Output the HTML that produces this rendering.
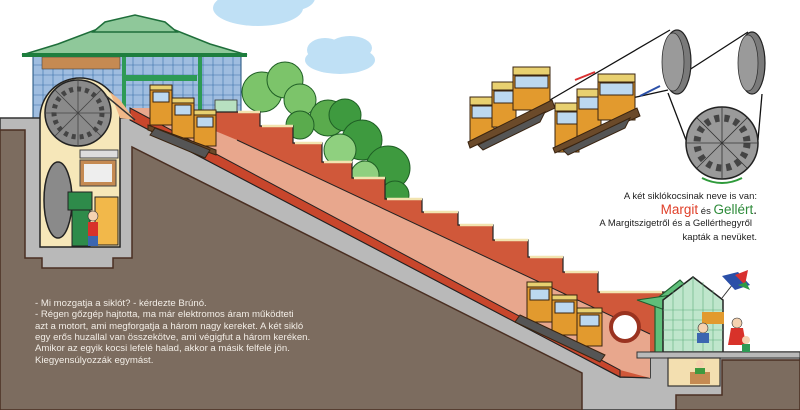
<!DOCTYPE html>
<html><head><meta charset="utf-8"><style>
html,body{margin:0;padding:0;background:#fff}
svg{display:block}
text{font-family:"Liberation Sans",sans-serif}
</style></head><body>
<svg width="800" height="410" viewBox="0 0 800 410" xmlns="http://www.w3.org/2000/svg">
<rect width="800" height="410" fill="#fff"/>
<!-- clouds -->
<g fill="#bfe0f5">
<ellipse cx="258" cy="8" rx="45" ry="18"/><ellipse cx="285" cy="-2" rx="30" ry="14"/>
<ellipse cx="340" cy="60" rx="35" ry="14"/><ellipse cx="325" cy="50" rx="18" ry="12"/><ellipse cx="350" cy="48" rx="22" ry="12"/>
</g>
<!-- trees -->
<g stroke="#1f5f25" stroke-width="1">
<circle cx="262" cy="92" r="20" fill="#7cc46a"/><circle cx="285" cy="80" r="18" fill="#7cc46a"/><circle cx="300" cy="100" r="16" fill="#7cc46a"/>
<circle cx="328" cy="118" r="18" fill="#5aab4d"/><circle cx="300" cy="125" r="14" fill="#5aab4d"/>
<circle cx="345" cy="115" r="16" fill="#3e9a3f"/><circle cx="362" cy="140" r="20" fill="#3e9a3f"/>
<circle cx="340" cy="150" r="16" fill="#8fd07f"/><circle cx="388" cy="168" r="22" fill="#3e9a3f"/><circle cx="395" cy="195" r="14" fill="#3e9a3f"/>
<circle cx="365" cy="175" r="14" fill="#8fd07f"/>
</g>
<!-- top building -->
<rect x="33" y="55" width="208" height="65" fill="#9fbde0" stroke="#1e4e7a" stroke-width="1"/>
<g stroke="#3a6fa8" stroke-width=".6">
<path d="M33,65H241M33,75H241M33,85H241M33,95H241M33,105H241M43,55V120M53,55V120M63,55V120M73,55V120M83,55V120M93,55V120M103,55V120M113,55V120M123,55V120M133,55V120M143,55V120M153,55V120M163,55V120M173,55V120M183,55V120M193,55V120M203,55V120M213,55V120M223,55V120M233,55V120"/>
</g>
<rect x="42" y="57" width="78" height="12" fill="#c58a52" stroke="#444" stroke-width=".6"/>
<rect x="122" y="75" width="75" height="6" fill="#2e9a55"/>
<rect x="122" y="55" width="4" height="65" fill="#2e9a55"/><rect x="198" y="55" width="4" height="65" fill="#2e9a55"/>
<polygon points="22,55 247,55 210,44 175,30 95,30 58,44" fill="#8fc89a" stroke="#1e6e3a" stroke-width="1.5"/>
<polygon points="93,32 177,32 165,22 135,15 105,22" fill="#8fc89a" stroke="#1e6e3a" stroke-width="1.5"/>
<rect x="22" y="53" width="225" height="4" fill="#1e7e3e"/>
<rect x="215" y="100" width="22" height="40" fill="#b8e0c0" stroke="#333" stroke-width=".8"/>
<!-- underground grey -->
<path d="M0,118 H135 L620,377 H650 V352 H800 V410 H0 Z" fill="#b9b9b9" stroke="#333" stroke-width="1.5"/>
<!-- brick region -->
<path d="M215,112 H260 V126 H293 V143 H322 V162 H352 V178 H385 V199 H422 V212 H458 V225 H493 V240 H528 V257 H563 V272 H598 V292 H665 V352 H650 V378 L620,377 L130,120 L215,120 Z" fill="#d0583a" stroke="#222" stroke-width="1.2"/>
<g stroke="#f2e4b0" stroke-width="2.5" fill="none">
<path d="M238,112 H260 M262,126 H293 M295,143 H322 M324,162 H352 M354,178 H385 M387,199 H422 M424,212 H458 M460,225 H493 M495,240 H528 M530,257 H563 M565,272 H598 M600,292 H662"/>
</g>
<!-- pink track band -->
<path d="M160,108 L237,140 L650,334 L650,378 L620,370 L130,108 Z" fill="#e8a78d"/>
<path d="M237,140 L650,334" stroke="#222" stroke-width="1"/>
<!-- red stripe -->
<path d="M130,108 L620,370 L620,377 L130,120 Z" fill="#c8462c" stroke="#222" stroke-width="1"/>
<!-- porthole -->
<circle cx="625" cy="327" r="14" fill="#fff" stroke="#9a3320" stroke-width="4"/>
<!-- brown earth -->
<path d="M0,130 H25 V258 H42 V268 H113 V258 H132 V147 L582,373 V410 H0 Z" fill="#7c6c5f" stroke="#4a2f22" stroke-width="1.5"/>
<path d="M676,410 V395 H722 V360 H800 V410 Z" fill="#7c6c5f" stroke="#4a2f22" stroke-width="1.5"/>
<!-- left shell chamber -->
<path d="M40,247 V118 A40,40 0 0 1 120,118 V247 Z" fill="#f6e7b9" stroke="#222" stroke-width="1.5"/>
<polygon points="110,92 120,100 135,120 120,118" fill="#f0b888"/>
<!-- big wheel -->
<circle cx="78" cy="113" r="33" fill="#8a8a8a" stroke="#222" stroke-width="1.5"/>
<circle cx="78" cy="113" r="24" fill="none" stroke="#444" stroke-width="5" stroke-dasharray="4 4"/>
<g stroke="#444" stroke-width="0.8"><line x1="45" y1="113" x2="111" y2="113"/><line x1="78" y1="80" x2="78" y2="146"/><line x1="55" y1="90" x2="101" y2="136"/><line x1="101" y1="90" x2="55" y2="136"/></g>
<line x1="105" y1="95" x2="135" y2="120" stroke="#333" stroke-width="1.5"/>
<ellipse cx="58" cy="200" rx="14" ry="38" fill="#8a8a8a" stroke="#222" stroke-width="1.5"/>
<rect x="80" y="150" width="38" height="8" fill="#ddd" stroke="#444"/>
<rect x="80" y="160" width="36" height="26" fill="#c58a52" stroke="#444"/>
<rect x="84" y="164" width="28" height="18" fill="#eee"/>
<rect x="68" y="192" width="24" height="18" fill="#2e8b4a" stroke="#222"/>
<rect x="72" y="210" width="18" height="36" fill="#2e8b4a" stroke="#222"/>
<rect x="95" y="197" width="23" height="48" fill="#f2b84a" stroke="#222"/>
<rect x="88" y="222" width="10" height="14" fill="#d8322a"/><circle cx="93" cy="216" r="5" fill="#f5d2b0" stroke="#333" stroke-width=".6"/>
<rect x="88" y="236" width="10" height="10" fill="#3c66b0"/>
<!-- cars top slope -->
<g stroke="#3a2410" stroke-width="1">
<rect x="150" y="85" width="22" height="40" fill="#e29a2e"/><rect x="150" y="85" width="22" height="5" fill="#e8d070"/><rect x="153" y="92" width="16" height="10" fill="#bcd8f0"/>
<rect x="172" y="98" width="22" height="40" fill="#e29a2e"/><rect x="172" y="98" width="22" height="5" fill="#e8d070"/><rect x="175" y="105" width="16" height="10" fill="#bcd8f0"/>
<rect x="194" y="110" width="22" height="36" fill="#e29a2e"/><rect x="194" y="110" width="22" height="5" fill="#e8d070"/><rect x="197" y="117" width="16" height="10" fill="#bcd8f0"/>
<polygon points="148,125 216,150 216,155 148,130" fill="#6b4a2a"/>
<polygon points="155,128 210,150 205,158 150,135" fill="#555"/>
</g>
<!-- cars bottom slope -->
<g stroke="#3a2410" stroke-width="1">
<rect x="527" y="282" width="25" height="40" fill="#e29a2e"/><rect x="527" y="282" width="25" height="5" fill="#e8d070"/><rect x="530" y="289" width="19" height="11" fill="#bcd8f0"/>
<rect x="552" y="295" width="25" height="40" fill="#e29a2e"/><rect x="552" y="295" width="25" height="5" fill="#e8d070"/><rect x="555" y="302" width="19" height="11" fill="#bcd8f0"/>
<rect x="577" y="308" width="25" height="38" fill="#e29a2e"/><rect x="577" y="308" width="25" height="5" fill="#e8d070"/><rect x="580" y="315" width="19" height="11" fill="#bcd8f0"/>
<polygon points="520,315 605,355 600,362 515,322" fill="#555"/>
</g>
<!-- station -->
<polygon points="655,352 655,300 680,280 700,300 672,300 672,352" fill="#5fbf7a" stroke="#1e5e2e" stroke-width="1.2"/>
<polygon points="637,300 672,295 665,310" fill="#5fbf7a" stroke="#1e5e2e" stroke-width="1"/>
<polygon points="663,352 663,300 693,277 723,300 723,352" fill="#bfe6cc" stroke="#222" stroke-width="1.5"/>
<g stroke="#5fae7a" stroke-width=".6"><path d="M663,310H723M663,320H723M663,330H723M663,340H723M673,290V352M683,282V352M693,277V352M703,282V352M713,290V352"/></g>
<line x1="722" y1="298" x2="740" y2="275" stroke="#333"/>
<path d="M722,276 L738,272 L750,285 L735,290 Z" fill="#2a4fa8"/><path d="M735,275 L748,270 L745,285 Z" fill="#d83030"/><path d="M738,285 L750,290 L746,282Z" fill="#2e9a45"/>
<rect x="637" y="352" width="163" height="6" fill="#b9b9b9" stroke="#333" stroke-width="1"/>
<rect x="668" y="358" width="52" height="28" fill="#f3dfb0" stroke="#333" stroke-width="1.2"/>
<rect x="690" y="372" width="20" height="12" fill="#c58a52"/><circle cx="700" cy="364" r="4" fill="#f5d2b0"/><rect x="695" y="368" width="10" height="6" fill="#3e9a3f"/>
<rect x="702" y="312" width="22" height="12" fill="#e29a2e"/><circle cx="703" cy="328" r="5" fill="#f5d2b0" stroke="#333" stroke-width=".6"/><rect x="697" y="333" width="12" height="10" fill="#3c66b0"/>
<circle cx="737" cy="323" r="5" fill="#f5d2b0" stroke="#333" stroke-width=".6"/><polygon points="731,328 743,328 746,345 728,345" fill="#d8322a"/>
<circle cx="746" cy="340" r="4" fill="#f5d2b0"/><rect x="742" y="344" width="8" height="8" fill="#2e9a55"/>
<!-- diagram top right -->
<g stroke="#111" stroke-width="1.3" fill="none">
<line x1="550" y1="100" x2="670" y2="30"/>
<line x1="632" y1="98" x2="668" y2="90"/>
<line x1="686" y1="72" x2="748" y2="32"/>
<line x1="668" y1="93" x2="686" y2="140"/>
<line x1="762" y1="94" x2="758" y2="140"/>
</g>
<ellipse cx="677" cy="62" rx="14" ry="32" fill="#7a7a7a" stroke="#222" stroke-width="1.2"/>
<ellipse cx="673" cy="62" rx="11" ry="29" fill="#9a9a9a" stroke="#333" stroke-width=".8"/>
<ellipse cx="752" cy="63" rx="13" ry="31" fill="#7a7a7a" stroke="#222" stroke-width="1.2"/>
<ellipse cx="748" cy="63" rx="10" ry="28" fill="#9a9a9a" stroke="#333" stroke-width=".8"/>
<circle cx="722" cy="143" r="36" fill="#9a9a9a" stroke="#222" stroke-width="1.5"/>
<circle cx="722" cy="143" r="25" fill="none" stroke="#444" stroke-width="7" stroke-dasharray="5 5"/>
<g stroke="#333" stroke-width=".8"><line x1="686" y1="143" x2="758" y2="143"/><line x1="722" y1="107" x2="722" y2="179"/><line x1="697" y1="118" x2="747" y2="168"/><line x1="747" y1="118" x2="697" y2="168"/></g>
<path d="M702,178 Q722,188 742,178" stroke="#2e9a3a" stroke-width="2" fill="none"/>
<line x1="575" y1="80" x2="595" y2="72" stroke="#d83030" stroke-width="2"/>
<line x1="660" y1="86" x2="640" y2="96" stroke="#2a4fa8" stroke-width="2"/>
<g stroke="#3a2410" stroke-width="1">
<rect x="470" y="100" width="24" height="42" fill="#e29a2e"/><rect x="470" y="97" width="24" height="8" fill="#e8d070"/><rect x="472" y="106" width="20" height="12" fill="#bcd8f0"/>
<rect x="492" y="85" width="24" height="42" fill="#e29a2e"/><rect x="492" y="82" width="24" height="8" fill="#e8d070"/><rect x="494" y="91" width="20" height="12" fill="#bcd8f0"/>
<rect x="513" y="70" width="37" height="40" fill="#e29a2e"/><rect x="513" y="67" width="37" height="8" fill="#e8d070"/><rect x="515" y="76" width="33" height="12" fill="#bcd8f0"/>
<polygon points="468,142 552,100 555,108 470,148" fill="#6b4a2a"/>
<polygon points="478,145 545,112 540,122 483,150" fill="#555"/>
<rect x="555" y="110" width="24" height="42" fill="#e29a2e"/><rect x="555" y="103" width="24" height="8" fill="#e8d070"/><rect x="557" y="112" width="20" height="12" fill="#bcd8f0"/>
<rect x="577" y="95" width="24" height="42" fill="#e29a2e"/><rect x="577" y="89" width="24" height="8" fill="#e8d070"/><rect x="579" y="97" width="20" height="12" fill="#bcd8f0"/>
<rect x="598" y="80" width="37" height="40" fill="#e29a2e"/><rect x="598" y="74" width="37" height="8" fill="#e8d070"/><rect x="600" y="83" width="33" height="12" fill="#bcd8f0"/>
<polygon points="553,148 637,108 640,116 555,153" fill="#6b4a2a"/>
<polygon points="563,150 630,118 625,128 568,155" fill="#555"/>
</g>
<!-- right text -->
<g font-size="9.5" fill="#222" text-anchor="end">
<text x="757" y="199">A két siklókocsinak neve is van:</text>
<text x="757" y="214" font-size="13.5"><tspan fill="#e0402a">Margit</tspan><tspan font-size="9.5" fill="#222"> és </tspan><tspan fill="#2e8b3a">Gellért</tspan>.</text>
<text x="752" y="226">A Margitszigetről és a Gellérthegyről</text>
<text x="757" y="240">kapták a nevüket.</text>
</g>
<!-- left text -->
<g font-size="9.6" fill="#f2ede6">
<text x="35" y="306">- Mi mozgatja a siklót? - kérdezte Brúnó.</text>
<text x="35" y="317">- Régen gőzgép hajtotta, ma már elektromos áram működteti</text>
<text x="35" y="329">azt a motort, ami megforgatja a három nagy kereket. A két sikló</text>
<text x="35" y="340">egy erős huzallal van összekötve, ami végigfut a három keréken.</text>
<text x="35" y="351">Amikor az egyik kocsi lefelé halad, akkor a másik felfelé jön.</text>
<text x="35" y="363">Kiegyensúlyozzák egymást.</text>
</g>
</svg>
</body></html>
